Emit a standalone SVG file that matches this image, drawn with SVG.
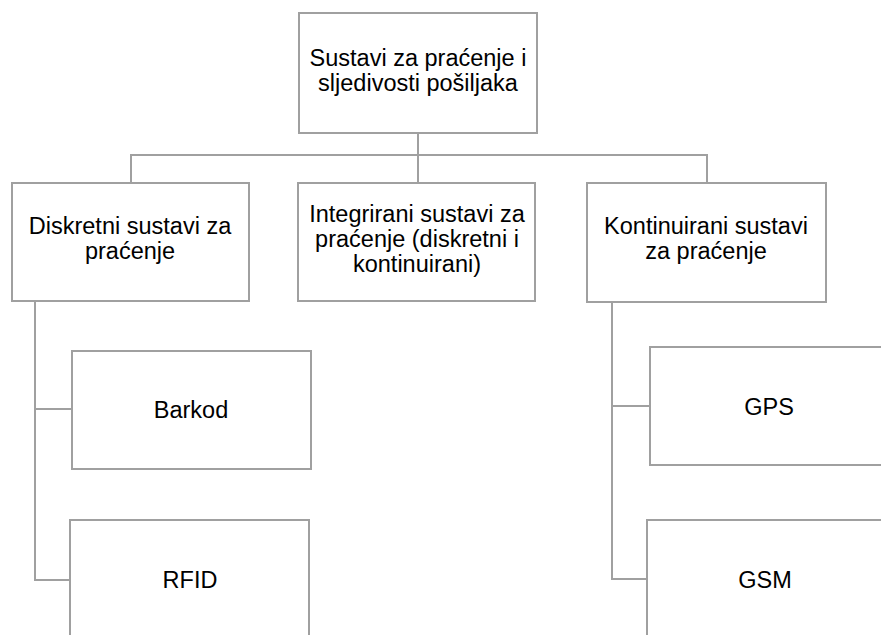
<svg xmlns="http://www.w3.org/2000/svg" width="881" height="635" viewBox="0 0 881 635">
<style>
.box{fill:#fff;stroke:#a0a0a0;stroke-width:2}
.ln{fill:none;stroke:#a0a0a0;stroke-width:2}
text{font-family:"Liberation Sans",Arial,sans-serif;font-size:23.5px;fill:#000;text-anchor:middle}
</style>
<rect width="881" height="635" fill="#fff"/>
<g id="connectors">
<path class="ln" d="M418,133 V183"/>
<path class="ln" d="M131,183 V155 H707 V183"/>
<path class="ln" d="M35,301 V580 H70 M35,409 H72"/>
<path class="ln" d="M612,302 V579 H647 M612,406 H650"/>
</g>
<g id="root">
<rect class="box" x="299" y="13" width="238" height="120"/>
<text x="418" y="66">Sustavi za praćenje i</text>
<text x="418" y="91">sljedivosti pošiljaka</text>
</g>
<g id="diskretni">
<rect class="box" x="12" y="183" width="237" height="118"/>
<text x="130" y="234">Diskretni sustavi za</text>
<text x="130" y="259">praćenje</text>
</g>
<g id="integrirani">
<rect class="box" x="298" y="183" width="237" height="118"/>
<text x="417" y="222">Integrirani sustavi za</text>
<text x="417" y="247">praćenje (diskretni i</text>
<text x="417" y="272">kontinuirani)</text>
</g>
<g id="kontinuirani">
<rect class="box" x="587" y="183" width="239" height="119"/>
<text x="706" y="234">Kontinuirani sustavi</text>
<text x="706" y="259">za praćenje</text>
</g>
<g id="barkod">
<rect class="box" x="72" y="351" width="239" height="118"/>
<text x="191" y="418">Barkod</text>
</g>
<g id="rfid">
<rect class="box" x="70" y="520" width="239" height="130"/>
<text x="190" y="588">RFID</text>
</g>
<g id="gps">
<rect class="box" x="650" y="347" width="240" height="118"/>
<text x="769" y="415">GPS</text>
</g>
<g id="gsm">
<rect class="box" x="647" y="520" width="240" height="130"/>
<text x="765" y="588">GSM</text>
</g>
</svg>
